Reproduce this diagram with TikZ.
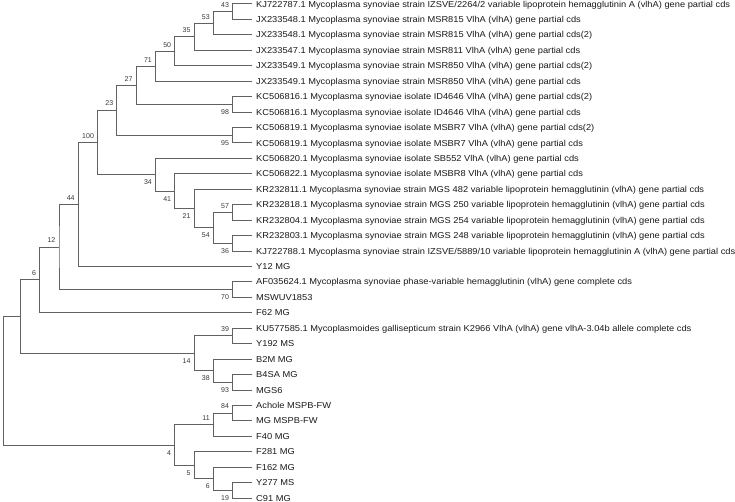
\documentclass[tikz,border=0pt]{standalone}
\usepackage{fontspec}
\setmainfont{Liberation Sans}
\newfontfamily\leaffont[FakeStretch=1.08]{Liberation Sans}
\usetikzlibrary{calc}
\newcommand\treenode[4]{% name, level, child1, child2
  \pgfmathsetmacro\tnx{252-19.3*#2}
  \path let \p1=($(#3)!0.5!(#4)$) in coordinate (#1) at (\tnx pt,\y1);
  \draw[br] (#3) -| (#1) |- (#4);}
\newcommand\bsup[2]{\node[bs,anchor=south east] (b#1) at ($(#1)+(-3.5,-4)$) {#2};}
\newcommand\bsdown[2]{\node[bs,anchor=north east] (b#1) at ($(#1)+(-3.5,5)$) {#2};}
\begin{document}
\begin{tikzpicture}[x=1pt,y=-1pt,
  br/.style={draw=black!62,line width=1pt},
  leaf/.style={anchor=base west,inner sep=0pt,font=\leaffont\fontsize{8.6}{9}\selectfont,text=black!90},
  bs/.style={inner sep=0pt,font=\fontsize{7}{7}\selectfont,text=black!78}]
\useasboundingbox (0,0) rectangle (735,502);
% leaves
\foreach \i/\t in {
1/{KJ722787.1 Mycoplasma synoviae strain IZSVE/2264/2 variable lipoprotein hemagglutinin A (vlhA) gene partial cds},
2/{JX233548.1 Mycoplasma synoviae strain MSR815 VlhA (vlhA) gene partial cds},
3/{JX233548.1 Mycoplasma synoviae strain MSR815 VlhA (vlhA) gene partial cds(2)},
4/{JX233547.1 Mycoplasma synoviae strain MSR811 VlhA (vlhA) gene partial cds},
5/{JX233549.1 Mycoplasma synoviae strain MSR850 VlhA (vlhA) gene partial cds(2)},
6/{JX233549.1 Mycoplasma synoviae strain MSR850 VlhA (vlhA) gene partial cds},
7/{KC506816.1 Mycoplasma synoviae isolate ID4646 VlhA (vlhA) gene partial cds(2)},
8/{KC506816.1 Mycoplasma synoviae isolate ID4646 VlhA (vlhA) gene partial cds},
9/{KC506819.1 Mycoplasma synoviae isolate MSBR7 VlhA (vlhA) gene partial cds(2)},
10/{KC506819.1 Mycoplasma synoviae isolate MSBR7 VlhA (vlhA) gene partial cds},
11/{KC506820.1 Mycoplasma synoviae isolate SB552 VlhA (vlhA) gene partial cds},
12/{KC506822.1 Mycoplasma synoviae isolate MSBR8 VlhA (vlhA) gene partial cds},
13/{KR232811.1 Mycoplasma synoviae strain MGS 482 variable lipoprotein hemagglutinin (vlhA) gene partial cds},
14/{KR232818.1 Mycoplasma synoviae strain MGS 250 variable lipoprotein hemagglutinin (vlhA) gene partial cds},
15/{KR232804.1 Mycoplasma synoviae strain MGS 254 variable lipoprotein hemagglutinin (vlhA) gene partial cds},
16/{KR232803.1 Mycoplasma synoviae strain MGS 248 variable lipoprotein hemagglutinin (vlhA) gene partial cds},
17/{KJ722788.1 Mycoplasma synoviae strain IZSVE/5889/10 variable lipoprotein hemagglutinin A (vlhA) gene partial cds},
18/{Y12 MG},
19/{AF035624.1 Mycoplasma synoviae phase-variable hemagglutinin (vlhA) gene complete cds},
20/{MSWUV1853},
21/{F62 MG},
22/{KU577585.1 Mycoplasmoides gallisepticum strain K2966 VlhA (vlhA) gene vlhA-3.04b allele complete cds},
23/{Y192 MS},
24/{B2M MG},
25/{B4SA MG},
26/{MGS6},
27/{Achole MSPB-FW},
28/{MG MSPB-FW},
29/{F40 MG},
30/{F281 MG},
31/{F162 MG},
32/{Y277 MS},
33/{C91 MG}}{
  \coordinate (l\i) at (252,{4+(\i-1)*15.44});
  \node[leaf] (t\i) at ($(l\i)+(4,3.05)$) {\t};
}
% internal nodes
\treenode{n43}{1}{l1}{l2}\bsup{n43}{43}
\treenode{n53}{2}{n43}{l3}\bsup{n53}{53}
\treenode{n35}{3}{n53}{l4}\bsup{n35}{35}
\treenode{n50}{4}{n35}{l5}\bsup{n50}{50}
\treenode{n71}{5}{n50}{l6}\bsup{n71}{71}
\treenode{n98}{1}{l7}{l8}\bsdown{n98}{98}
\treenode{n27}{6}{n71}{n98}\bsup{n27}{27}
\treenode{n95}{1}{l9}{l10}\bsdown{n95}{95}
\treenode{n23}{7}{n27}{n95}\bsup{n23}{23}
\treenode{n57}{1}{l14}{l15}\bsup{n57}{57}
\treenode{n36}{1}{l16}{l17}\bsdown{n36}{36}
\treenode{n54}{2}{n57}{n36}\bsdown{n54}{54}
\treenode{n21}{3}{l13}{n54}\bsdown{n21}{21}
\treenode{n41}{4}{l12}{n21}\bsdown{n41}{41}
\treenode{n34}{5}{l11}{n41}\bsdown{n34}{34}
\treenode{n100}{8}{n23}{n34}\bsup{n100}{100}
\treenode{n44}{9}{n100}{l18}\bsup{n44}{44}
\treenode{n70}{1}{l19}{l20}\bsdown{n70}{70}
\treenode{n12}{10}{n44}{n70}\bsup{n12}{12}
\treenode{n6}{11}{n12}{l21}\bsup{n6}{6}
\treenode{n39}{1}{l22}{l23}\bsup{n39}{39}
\treenode{n93}{1}{l25}{l26}\bsdown{n93}{93}
\treenode{n38}{2}{l24}{n93}\bsdown{n38}{38}
\treenode{n14}{3}{n39}{n38}\bsdown{n14}{14}
\treenode{nA}{12}{n6}{n14}
\treenode{n84}{1}{l27}{l28}\bsup{n84}{84}
\treenode{n11}{2}{n84}{l29}\bsup{n11}{11}
\treenode{n19}{1}{l32}{l33}\bsdown{n19}{19}
\treenode{n6b}{2}{l31}{n19}\bsdown{n6b}{6}
\treenode{n5}{3}{l30}{n6b}\bsdown{n5}{5}
\treenode{n4}{4}{n11}{n5}\bsdown{n4}{4}
\treenode{root}{12.9}{nA}{n4}
\end{tikzpicture}
\end{document}
